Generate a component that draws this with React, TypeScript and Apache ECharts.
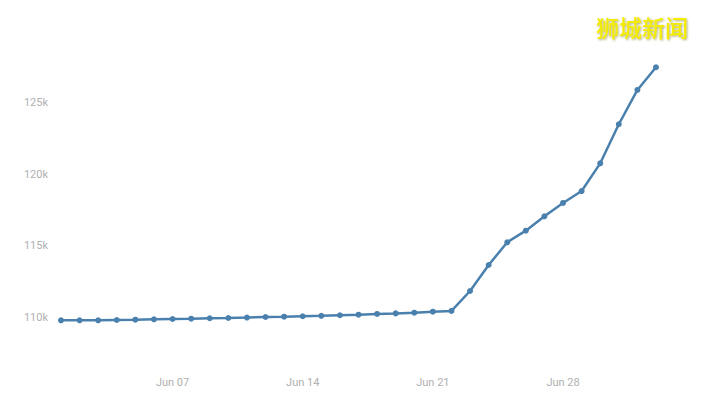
import React, { useEffect, useRef } from "react";
import * as echarts from "echarts";

const dates: string[] = [
  "Jun 01", "Jun 02", "Jun 03", "Jun 04", "Jun 05", "Jun 06", "Jun 07", "Jun 08",
  "Jun 09", "Jun 10", "Jun 11", "Jun 12", "Jun 13", "Jun 14", "Jun 15", "Jun 16",
  "Jun 17", "Jun 18", "Jun 19", "Jun 20", "Jun 21", "Jun 22", "Jun 23", "Jun 24",
  "Jun 25", "Jun 26", "Jun 27", "Jun 28", "Jun 29", "Jun 30", "Jul 01", "Jul 02", "Jul 03",
];

const cases: number[] = [
  109820, 109820, 109820, 109840, 109860, 109890, 109910, 109930,
  109960, 109980, 110010, 110050, 110070, 110100, 110130, 110170,
  110210, 110260, 110300, 110350, 110420, 110470, 111860, 113670,
  115250, 116060, 117060, 117990, 118820, 120750, 123470, 125860, 127440,
];

const watermark = "狮城新闻";

export default function App() {
  const ref = useRef<HTMLDivElement>(null);
  useEffect(() => {
    if (!ref.current) return;
    const chart = echarts.init(ref.current, undefined, { renderer: "svg" });
    chart.setOption({
      animation: false,
      backgroundColor: "#ffffff",
      grid: { left: 61, right: 50, top: 30.5, bottom: 46.4, containLabel: false },
      xAxis: {
        type: "category",
        data: dates,
        boundaryGap: false,
        axisLine: { show: false },
        axisTick: { show: false },
        splitLine: { show: false },
        axisLabel: {
          interval: (idx: number) => idx % 7 === 6,
          color: "#b0b0b0",
          fontSize: 11,
          margin: 23,
          fontFamily: "Roboto, sans-serif",
        },
      },
      yAxis: {
        type: "value",
        min: 107500,
        max: 130000,
        interval: 2500,
        axisLine: { show: false },
        axisTick: { show: false },
        splitLine: { show: false },
        axisLabel: {
          color: "#b0b0b0",
          fontSize: 11,
          margin: 13,
          fontFamily: "Roboto, sans-serif",
          formatter: (v: number) =>
            v % 5000 === 0 && v < 130000 ? `${v / 1000}k` : "",
        },
      },
      series: [
        {
          type: "line",
          data: cases,
          symbol: "circle",
          symbolSize: 6,
          lineStyle: { color: "#4a80ad", width: 2.5 },
          itemStyle: { color: "#4a80ad" },
        },
      ],
      graphic: [
        {
          type: "text",
          left: 596,
          top: 15,
          style: {
            text: watermark,
            fill: "#f3ec00",
            font: "500 23px 'Noto Sans CJK SC', sans-serif",
            textShadowColor: "rgba(110,100,0,0.55)",
            textShadowBlur: 2,
            textShadowOffsetX: 1,
            textShadowOffsetY: 1,
          },
        },
      ],
    });
    return () => chart.dispose();
  }, []);
  return <div ref={ref} style={{ width: 706, height: 400, position: "fixed", left: 0, top: 0 }} />;
}
